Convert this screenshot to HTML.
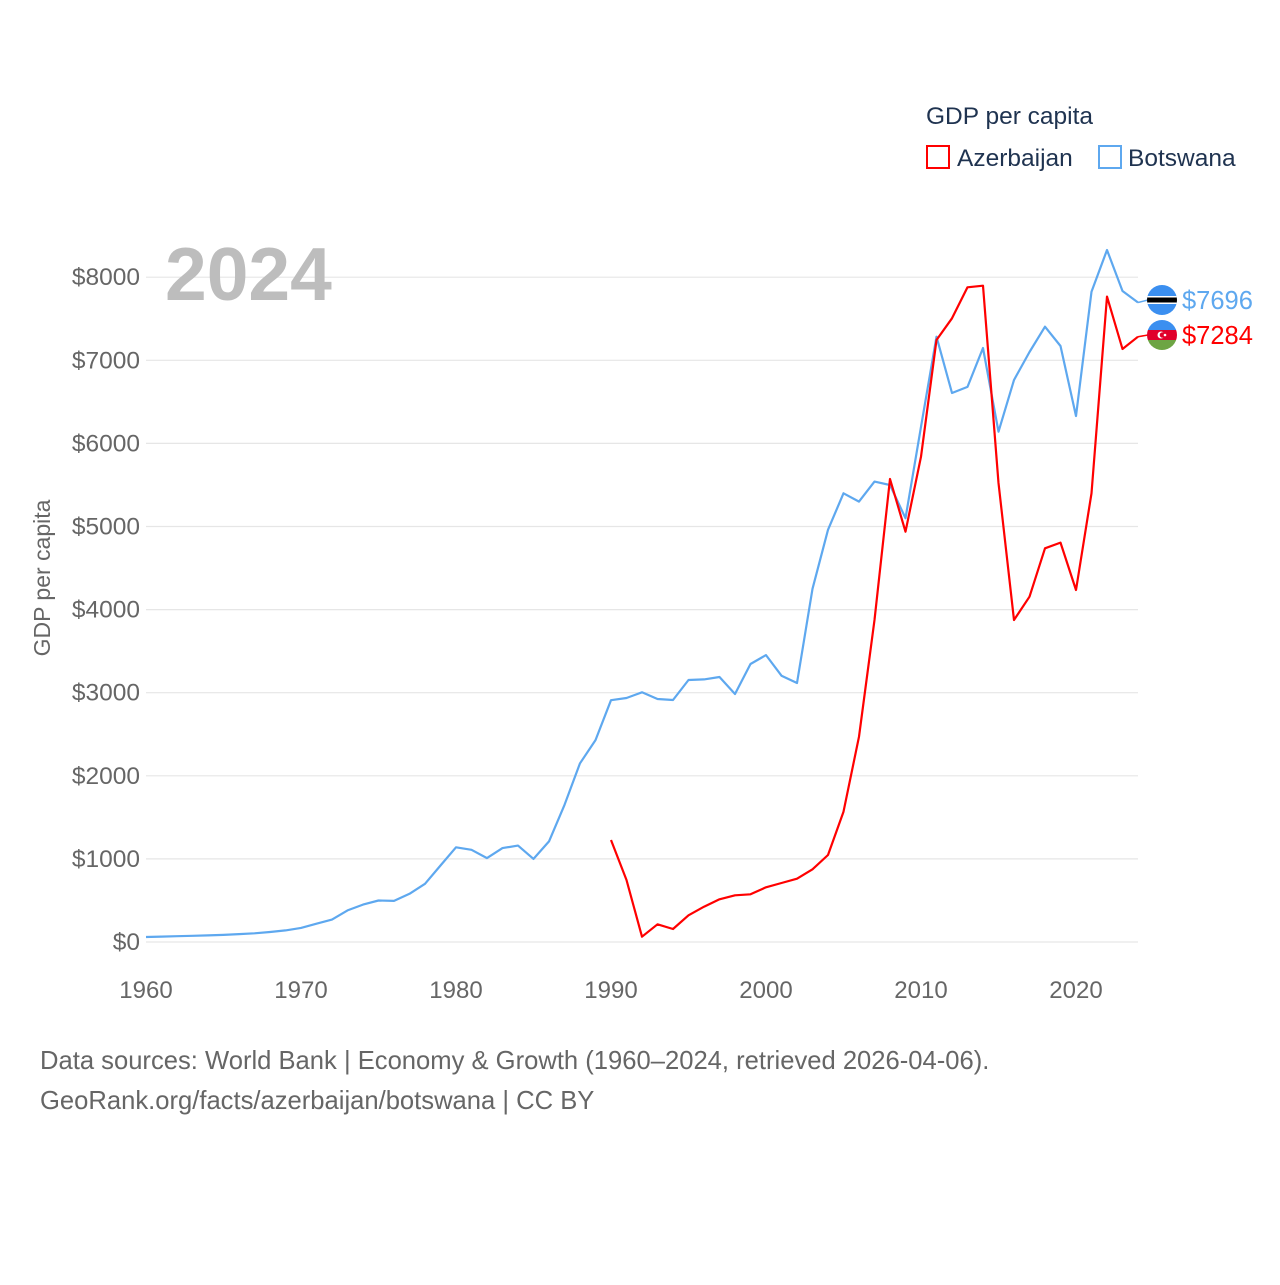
<!DOCTYPE html>
<html><head><meta charset="utf-8"><style>
body{margin:0;background:#fff;}
svg text{font-family:"Liberation Sans",sans-serif;}
</style></head><body>
<svg width="1280" height="1280" xmlns="http://www.w3.org/2000/svg">
<g id="grid"></g>
<g id="yt"></g>
<g id="xt"></g>
<text x="165" y="300" font-size="75" font-weight="bold" fill="#bdbdbd">2024</text>
<text transform="translate(50,578) rotate(-90)" text-anchor="middle" font-size="23" fill="#666">GDP per capita</text>
<g id="lines"></g>
<g>
<text x="926" y="124" font-size="24.5" fill="#1f3350">GDP per capita</text>
<rect x="927" y="146" width="22" height="22" fill="none" stroke="#f00" stroke-width="2"/>
<text x="957" y="166" font-size="24.5" fill="#1f3350">Azerbaijan</text>
<rect x="1099" y="146" width="22" height="22" fill="none" stroke="#5ea8ef" stroke-width="2"/>
<text x="1128" y="166" font-size="24.5" fill="#1f3350">Botswana</text>
</g>
<g id="ends"></g>
<text x="40" y="1069" font-size="25.6" fill="#666">Data sources: World Bank | Economy &amp; Growth (1960–2024, retrieved 2026-04-06).</text>
<text x="40" y="1109" font-size="25.6" fill="#666">GeoRank.org/facts/azerbaijan/botswana | CC BY</text>
</svg>
<script>
const yTicks=[0,1000,2000,3000,4000,5000,6000,7000,8000];
const xTicks=[1960,1970,1980,1990,2000,2010,2020];
const bwYears=[];for(let y=1960;y<=2024;y++)bwYears.push(y);
const bwValues=[60,65,70,75,80,85,95,105,120,140,170,220,270,380,450,500,495,580,700,920,1140,1110,1010,1130,1160,1000,1210,1650,2150,2430,2910,2936,3005,2924,2912,3153,3160,3189,2984,3345,3453,3204,3117,4250,4960,5400,5300,5540,5500,5100,6200,7284,6606,6680,7148,6141,6763,7100,7404,7172,6330,7826,8327,7834,7696];
const azYears=[];for(let y=1990;y<=2024;y++)azYears.push(y);
const azValues=[1227,746,64,213,156,321,425,514,562,574,658,710,762,875,1047,1568,2471,3875,5571,4938,5840,7244,7505,7878,7898,5523,3875,4155,4738,4806,4236,5400,7766,7136,7284];
const NS='http://www.w3.org/2000/svg';
const X=y=>146+(y-1960)*15.5;
const Y=v=>942-v*0.0831;
function mk(tag,attrs,parent){const e=document.createElementNS(NS,tag);for(const k in attrs)e.setAttribute(k,attrs[k]);parent.appendChild(e);return e;}
const grid=document.getElementById('grid'),yt=document.getElementById('yt'),xt=document.getElementById('xt'),lines=document.getElementById('lines'),ends=document.getElementById('ends');
yTicks.forEach(v=>{
 const l=mk('line',{x1:146,x2:1138,y1:Y(v),y2:Y(v),stroke:'#e6e6e6','stroke-width':1.2},grid);
 
 
 const t=mk('text',{x:140,y:Y(v)+8,'text-anchor':'end','font-size':24.5,fill:'#666'},yt);
 t.textContent='$'+v;
 
 
});
xTicks.forEach(v=>{
 const t=mk('text',{x:X(v),y:998,'text-anchor':'middle','font-size':24,fill:'#666'},xt);
 t.textContent=v;
 
 
});
function series(years,vals,color,name){
 const d=years.map((y,i)=>(i?'L':'M')+X(y).toFixed(1)+' '+Y(vals[i]).toFixed(1)).join(' ');
 const p=mk('path',{d:d,fill:'none',stroke:color,'stroke-width':2.2,'stroke-linejoin':'round'},lines);
 
 
}
series(bwYears,bwValues,'#5ea8ef','botswana');
series(azYears,azValues,'#f00','azerbaijan');
const bwLast=bwValues[bwValues.length-1],azLast=azValues[azValues.length-1];
const lb=[{v:bwLast,ly:300,c:'#5ea8ef',n:'botswana'},{v:azLast,ly:335,c:'#f00',n:'azerbaijan'}];
lb.forEach(o=>{
 const ln=mk('path',{d:`M${X(2024)} ${Y(o.v)} L1148 ${o.ly}`,stroke:o.c,'stroke-width':1.5,fill:'none'},ends);
 
 
 const g=mk('g',{},ends);
 
 
 const cid='c'+o.n;
 const cp=mk('clipPath',{id:cid},g);mk('circle',{cx:1162,cy:o.ly,r:15},cp);
 const fg=mk('g',{'clip-path':`url(#${cid})`},g);
 if(o.n==='botswana'){
  mk('rect',{x:1147,y:o.ly-15,width:30,height:30,fill:'#3b8ff0'},fg);
  mk('rect',{x:1147,y:o.ly-4,width:30,height:8,fill:'#fff'},fg);
  mk('rect',{x:1147,y:o.ly-2.5,width:30,height:5,fill:'#000'},fg);
 }else{
  mk('rect',{x:1147,y:o.ly-15,width:30,height:10,fill:'#3b8ff0'},fg);
  mk('rect',{x:1147,y:o.ly-5,width:30,height:10,fill:'#e0002b'},fg);
  mk('rect',{x:1147,y:o.ly+5,width:30,height:10,fill:'#6da544'},fg);
  mk('circle',{cx:1161,cy:o.ly,r:3.5,fill:'#fff'},fg);
  mk('circle',{cx:1162.5,cy:o.ly,r:2.8,fill:'#e0002b'},fg);
  mk('circle',{cx:1165,cy:o.ly,r:1.3,fill:'#fff'},fg);
 }
 const t=mk('text',{x:1182,y:o.ly+9,'font-size':25.5,fill:o.c},ends);
 t.textContent='$'+o.v;
 
 
});
</script>
</body></html>
